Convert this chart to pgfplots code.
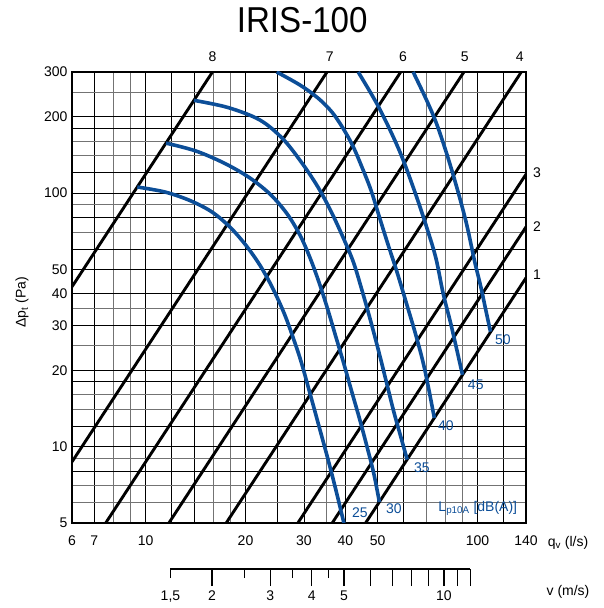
\documentclass[border=0pt]{standalone}
\usepackage{fontspec}
\setmainfont{Liberation Sans}
\usepackage{pgfplots}
\pgfplotsset{compat=1.18}
\definecolor{curveblue}{RGB}{12,78,152}

\newcommand{\lblfont}{\fontsize{14}{16}\selectfont}

\begin{document}
\begin{tikzpicture}
\begin{axis}[
    at={(0,0)}, anchor=south west,
    scale only axis,
    width=454pt, height=451pt,
    xmode=log, ymode=log,
    xmin=6, xmax=140,
    ymin=5, ymax=300,
    xtick={6,7,10,12,14,20,25,30,40,50,60,100,120,140},
    xticklabels={6,7,10,,,20,,30,40,50,,100,,140},
    minor xtick={8,9,16,18,35,70,80,90},
    ytick={5,8,10,12,18,20,30,40,50,60,80,100,120,180,200,300},
    yticklabels={5,,10,,,20,30,40,50,,,100,,,200,300},
    minor ytick={6,7,9,14,16,25,35,70,90,140,160,250},
    grid=both,
    major grid style={black, line width=0.9pt},
    minor grid style={black!55, line width=0.9pt},
    major tick length=0pt, minor tick length=0pt,
    axis line style={line width=1.5pt},
    tick label style={font=\lblfont},
    xticklabel style={yshift=-9pt},
    yticklabel style={xshift=-1pt},
    clip mode=individual,
    ylabel={Δp\textsubscript{t} (Pa)},
    ylabel style={font=\lblfont, at={(axis description cs:-0.11,0.49)}, anchor=center},
]

% damper position lines 1..8 (dp ~ q^2)
\addplot[black, line width=2.9pt] coordinates {(6,42.7) (15.9,300)};
\addplot[black, line width=2.9pt] coordinates {(6,8.71) (35.2,300)};
\addplot[black, line width=2.9pt] coordinates {(7.58,5) (58.7,300)};
\addplot[black, line width=2.9pt] coordinates {(11.75,5) (91.0,300)};
\addplot[black, line width=2.9pt] coordinates {(17.49,5) (135.5,300)};
\addplot[black, line width=2.9pt] coordinates {(28.75,5) (140,118.6)};
\addplot[black, line width=2.9pt] coordinates {(36.5,5) (140,73.5)};
\addplot[black, line width=2.9pt] coordinates {(46.0,5) (140,46.3)};

% sound level curves Lp10A
\addplot[curveblue, line width=3.6pt, smooth, tension=0.55] coordinates {
    (9.437,105.6) (11.44,100.9) (13.60,93.4) (15.84,84.2) (17.95,73.4)
    (19.92,62.9) (21.80,53.4) (23.36,45.8) (24.87,38.9) (26.28,33.0)
    (27.78,27.05) (29.37,21.75) (31.26,16.26) (33.28,12.06) (35.42,8.94)
    (37.45,6.74) (39.58,5)};
\addplot[curveblue, line width=3.6pt, smooth, tension=0.55] coordinates {
    (11.517,157.3) (14.18,146.4) (17.34,130.7) (20.62,114.6) (23.86,98.2)
    (26.84,81.9) (29.37,67.1) (31.48,54.4) (33.51,43.4) (35.42,34.6)
    (37.45,27.05) (39.58,21.2) (41.83,16.4) (44.22,12.73) (46.74,9.70)
    (48.73,7.80) (50.62,6.05)};
\addplot[curveblue, line width=3.6pt, smooth, tension=0.55] coordinates {
    (13.984,231.9) (17.71,217.3) (22.10,194.0) (25.93,163.3) (29.58,131.3)
    (33.05,105.6) (36.16,84.9) (39.30,67.1) (42.27,53.4) (44.84,41.45)
    (47.56,31.56) (50.44,23.61) (53.33,17.65) (55.98,13.69) (58.76,10.91)
    (61.39,8.894)};
\addplot[curveblue, line width=3.6pt, smooth, tension=0.55] coordinates {
    (24.82,300) (29.17,266.6) (33.05,236.9) (36.41,208.6) (39.30,180.4)
    (42.12,153.2) (44.84,126.6) (47.73,102.8) (50.62,80.4) (53.70,62.9)
    (56.95,49.7) (61.05,36.8) (65.44,27.05) (69.40,20.05) (74.13,12.97)};
\addplot[curveblue, line width=3.6pt, smooth, tension=0.55] coordinates {
    (43.7,300) (49.66,225.9) (55.1,171.9) (59.7,135) (65.5,96.7)
    (70.2,73.6) (74.9,55.5) (78.8,40.2) (83.5,29.7) (90.1,19.2)};
\addplot[curveblue, line width=3.6pt, smooth, tension=0.55] coordinates {
    (64.0,300) (70.2,232.7) (75.2,188.3) (80.7,143.3) (86.5,105.9)
    (92.6,75.9) (98.1,53.5) (102.1,43.2) (105.9,34.6) (109.4,28.4)};

% line numbers
\node[font=\lblfont, anchor=base, yshift=10pt] at (axis cs:15.9,300) {8};
\node[font=\lblfont, anchor=base, yshift=10pt] at (axis cs:35.9,300) {7};
\node[font=\lblfont, anchor=base, yshift=10pt] at (axis cs:59.6,300) {6};
\node[font=\lblfont, anchor=base, yshift=10pt] at (axis cs:91.6,300) {5};
\node[font=\lblfont, anchor=base, yshift=10pt] at (axis cs:134,300) {4};
\node[font=\lblfont, xshift=11pt] at (axis cs:140,120) {3};
\node[font=\lblfont, xshift=11pt] at (axis cs:140,73.4) {2};
\node[font=\lblfont, xshift=11pt] at (axis cs:140,47.5) {1};

% sound level labels
\node[font=\lblfont, text=curveblue] at (axis cs:119.2,26.3) {50};
\node[font=\lblfont, text=curveblue] at (axis cs:98.8,17.5) {45};
\node[font=\lblfont, text=curveblue] at (axis cs:80.3,12.06) {40};
\node[font=\lblfont, text=curveblue] at (axis cs:68.0,8.24) {35};
\node[font=\lblfont, text=curveblue] at (axis cs:56.0,5.67) {30};
\node[font=\lblfont, text=curveblue] at (axis cs:44.2,5.47) {25};
\node[font=\lblfont, text=curveblue] at (axis cs:100.2,5.72) {L\textsubscript{p10A} [dB(A)]};

\node[font=\lblfont] at (rel axis cs:1,0) [xshift=42pt, yshift=-20pt] {q\textsubscript{v} (l/s)};
\node[font=\lblfont] at (rel axis cs:1,0) [xshift=42pt, yshift=-69pt] {v (m/s)};
\node at (rel axis cs:0.507,1) [yshift=52pt] {\scalebox{0.92}[1]{\fontsize{36}{40}\selectfont IRIS-100}};

\coordinate (vstart) at ([yshift=-46pt]axis cs:11.88,5);
\end{axis}

% air velocity scale, v = q / 7.92
\begin{axis}[
    at={(vstart)}, anchor=south west,
    scale only axis,
    width=299.8pt, height=10pt,
    xmode=log,
    xmin=1.5, xmax=12,
    ymin=0, ymax=1,
    axis y line=none,
    axis x line=bottom,
    x axis line style={-, line width=1.3pt},
    tick align=outside,
    xtick={2,3,4,5,6,7,8,9,10,11,12},
    xticklabels={2,3,4,5,,,,,10,,},
    minor xtick={2.5,3.5,4.5},
    extra x ticks={1.5},
    extra x tick labels={{1{,}5}},
    extra x tick style={major tick length=9pt, tick label style={yshift=-8pt}},
    major tick length=17pt, minor tick length=9pt,
    tick style={black, line width=1.2pt},
    tick label style={font=\lblfont},
    xticklabel style={yshift=-1pt},
]
\end{axis}

\pgfresetboundingbox
\path[use as bounding box] (-72pt,-85pt) rectangle (531pt,523pt);
\end{tikzpicture}
\end{document}
